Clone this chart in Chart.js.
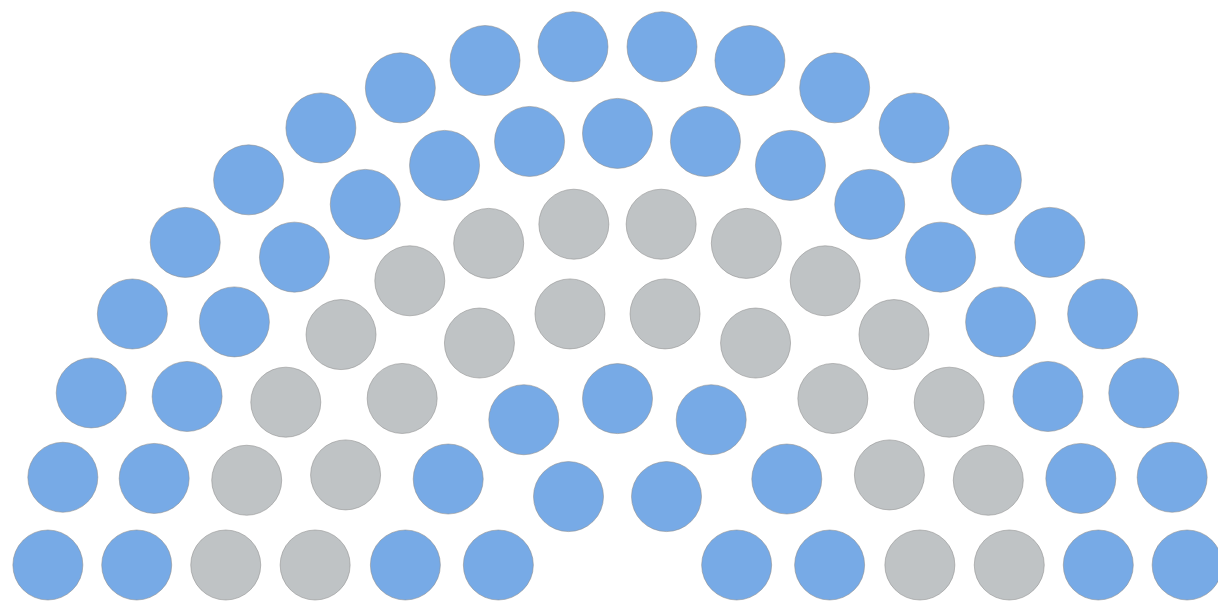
<!DOCTYPE html>
<html>
<head>
<meta charset="utf-8">
<script src="https://cdn.jsdelivr.net/npm/chart.js@4"></script>
<style>
  html,body{margin:0;padding:0;background:#fff;}
  #wrap{width:1218px;height:601px;position:relative;}
</style>
</head>
<body>
<div id="wrap"><canvas id="c"></canvas></div>
<script>
/* hemicycle: seats per ring (outer -> inner) and which group fills each ring */
const ringSeats = [20, 17, 14, 10, 7, 4];
const ringGroup = ['A', 'A', 'B', 'B', 'A', 'A'];
const groups = ['A', 'B'];
const groupColor = { A:'#77aae6', B:'#bfc3c5' };

// layout constants (pixel-ish data units, y grows downward)
const CX = 617.5, CY = 617, R0 = 572, STEP = 88.4, BASE = 52;

const pts = { A:[], B:[] };
ringSeats.forEach((n, i) => {
  const r = R0 - STEP * i;
  const a0 = Math.asin(BASE / r), a1 = Math.PI - a0;
  for (let k = 0; k < n; k++) {
    const a = a1 - (a1 - a0) * k / (n - 1);
    pts[ringGroup[i]].push({ x: CX + r * Math.cos(a), y: CY - r * Math.sin(a) });
  }
});

new Chart(document.getElementById('c'), {
  type: 'scatter',
  data: {
    datasets: groups.map(g => ({
      label: g,
      data: pts[g],
      backgroundColor: groupColor[g],
      borderColor: 'rgba(140,140,140,0.55)',
      borderWidth: 1,
      pointRadius: 35,
      pointHoverRadius: 35,
      clip: false
    }))
  },
  options: {
    responsive: true,
    maintainAspectRatio: false,
    animation: false,
    layout: { padding: 0, autoPadding: false },
    plugins: { legend: { display: false }, tooltip: { enabled: false } },
    scales: {
      x: { type: 'linear', min: 0, max: 1218, display: false },
      y: { type: 'linear', min: 0, max: 601, reverse: true, display: false }
    }
  }
});
</script>
</body>
</html>
